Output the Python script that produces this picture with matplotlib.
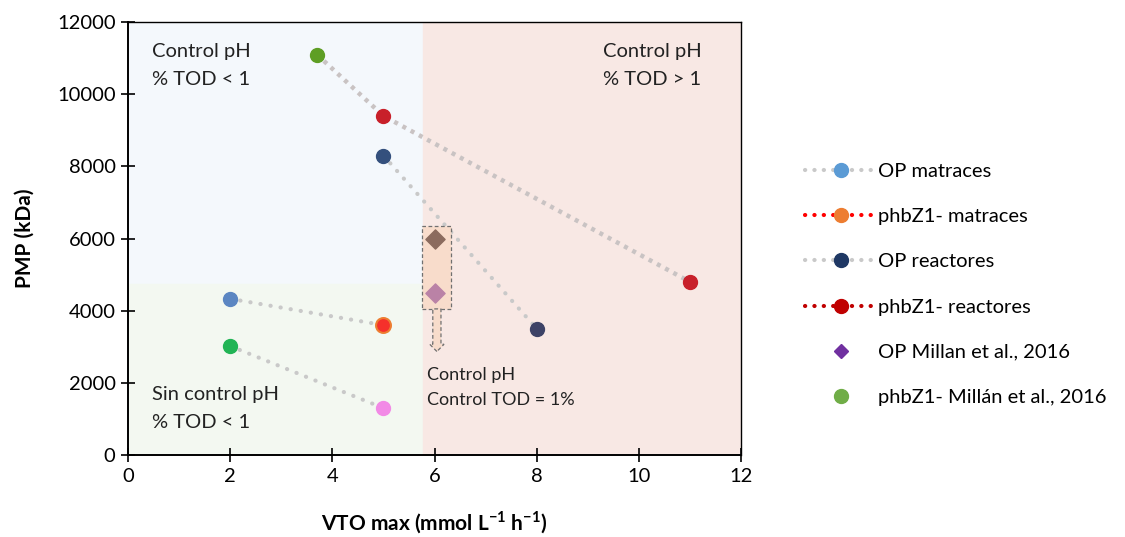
import numpy as np
import matplotlib.pyplot as plt
from matplotlib.patches import Rectangle, FancyArrow
from matplotlib.lines import Line2D

plt.rcParams['font.family'] = ['Lato', 'DejaVu Sans']
plt.rcParams['mathtext.fontset'] = 'custom'
plt.rcParams['mathtext.rm'] = 'Lato'
plt.rcParams['mathtext.bf'] = 'Lato:bold'

# Datos
op_matraces_x = [2, 5]
op_matraces_y = [4330, 3600]
phb_matraces_x = [2, 5]
phb_matraces_y = [3020, 1300]
op_reactores_x = [5, 8]
op_reactores_y = [8300, 3500]
phb_reactores_x = [3.7, 5, 11]
phb_reactores_y = [11100, 9400, 4800]
millan_x = [6, 6]
millan_y = [6000, 4500]

legend_labels = ['OP matraces', 'phbZ1- matraces', 'OP reactores',
                 'phbZ1- reactores', 'OP Millan et al., 2016',
                 'phbZ1- Millán et al., 2016']

xticks = [0, 2, 4, 6, 8, 10, 12]
yticks = [0, 2000, 4000, 6000, 8000, 10000, 12000]

fig = plt.figure(figsize=(11.25, 5.37), dpi=100)
ax = fig.add_axes([0.1138, 0.1527, 0.545, 0.806])
ax.set_xlim(0, 12)
ax.set_ylim(0, 12000)

# Regiones de fondo
ax.add_patch(Rectangle((0, 4740), 5.78, 12000 - 4740, color='#F4F8FC', zorder=0))
ax.add_patch(Rectangle((0, 0), 5.78, 4740, color='#F3F8F1', zorder=0))
ax.add_patch(Rectangle((5.78, 0), 12 - 5.78, 12000, color='#F8E8E4', zorder=0))

gray = '#C9C9C9'
dot = dict(color=gray, lw=3.0, linestyle=(0, (0.05, 2.4)), dash_capstyle='round', zorder=2)
ax.plot(op_matraces_x, op_matraces_y, **dot)
ax.plot(phb_matraces_x, phb_matraces_y, **dot)
ax.plot(op_reactores_x, op_reactores_y, **dot)
ax.plot(phb_reactores_x, phb_reactores_y, color='#C9C3C3', lw=3.2,
        linestyle=(0, (0.9, 1.2)), dash_capstyle='butt', zorder=2)

s = 100
ax.scatter([2], [4330], s=s, color='#5B86C2', zorder=4)
ax.scatter([5], [3600], s=s + 15, color='#F5302B', edgecolor='#ED7D31', linewidth=1.5, zorder=4)
ax.scatter([2], [3020], s=s, color='#21B455', zorder=4)
ax.scatter([5], [1300], s=s, color='#F28AE6', zorder=4)
ax.scatter([5], [8300], s=s, color='#34507D', zorder=4)
ax.scatter([8], [3500], s=s, color='#3D4266', zorder=4)
ax.scatter([3.7], [11100], s=s, color='#5E9E24', zorder=4)
ax.scatter([5], [9400], s=s, color='#C8202A', zorder=4)
ax.scatter([11], [4800], s=s, color='#C8202A', zorder=4)

# Caja y flecha
ax.add_patch(Rectangle((5.76, 4050), 0.57, 2290, facecolor='#F8DCCB', edgecolor='#707070',
                       linestyle=(0, (3, 2)), lw=0.9, zorder=3))
ax.add_patch(FancyArrow(6.045, 4050, 0, -1180, width=0.16, head_width=0.28, head_length=200,
                        length_includes_head=True, facecolor='#F8DCCB', edgecolor='#707070',
                        linestyle=(0, (3, 2)), lw=0.9, zorder=3))
ax.scatter(millan_x[:1], millan_y[:1], marker='D', s=95, color='#8B6B5E', zorder=4)
ax.scatter(millan_x[1:], millan_y[1:], marker='D', s=95, color='#BA82A6', zorder=4)

tfs = 14.5
ax.text(0.47, 11430, 'Control pH\n% TOD < 1', fontsize=tfs, va='top', linespacing=1.8, color='#222222')
ax.text(9.3, 11430, 'Control pH\n% TOD > 1', fontsize=tfs, va='top', linespacing=1.8, color='#222222')
ax.text(0.47, 1910, 'Sin control pH\n% TOD < 1', fontsize=tfs, va='top', linespacing=1.75, color='#222222')
ax.text(5.86, 2430, 'Control pH\nControl TOD = 1%', fontsize=13, va='top', linespacing=1.7,
        color='#222222')

ax.set_xticks(xticks)
ax.set_yticks(yticks)
ax.tick_params(direction='inout', length=10, width=1.2, labelsize=14.5, pad=4)
for sp in ['left', 'bottom']:
    ax.spines[sp].set_linewidth(1.4)
for sp in ['top', 'right']:
    ax.spines[sp].set_linewidth(1.0)
ax.set_xlabel('VTO max (mmol L$^{\\mathbf{-1}}$ h$^{\\mathbf{-1}}$)', fontsize=15,
              fontweight='bold', labelpad=18)
ax.set_ylabel('PMP (kDa)', fontsize=15, fontweight='bold', labelpad=16)

handles = [
    Line2D([], [], color=gray, lw=3, linestyle=(0, (0.05, 2.2)), dash_capstyle='round',
           marker='o', markersize=10, markerfacecolor='#5B9BD5', markeredgecolor='#5B9BD5'),
    Line2D([], [], color='#FF0000', lw=3, linestyle=(0, (0.05, 2.2)), dash_capstyle='round',
           marker='o', markersize=10, markerfacecolor='#ED7D31', markeredgecolor='#ED7D31'),
    Line2D([], [], color=gray, lw=3, linestyle=(0, (0.05, 2.2)), dash_capstyle='round',
           marker='o', markersize=10, markerfacecolor='#1F3864', markeredgecolor='#1F3864'),
    Line2D([], [], color='#C00000', lw=3, linestyle=(0, (0.05, 2.2)), dash_capstyle='round',
           marker='o', markersize=10, markerfacecolor='#C00000', markeredgecolor='#C00000'),
    Line2D([], [], linestyle='none', marker='D', markersize=7, color='#7030A0'),
    Line2D([], [], linestyle='none', marker='o', markersize=10, color='#70AD47'),
]
fig.legend(handles, legend_labels, loc='upper left', bbox_to_anchor=(0.699, 0.731),
           frameon=False, fontsize=14.5, handlelength=3.6, labelspacing=1.4,
           handletextpad=0.05, numpoints=1)

fig.savefig('out.png', dpi=100)
